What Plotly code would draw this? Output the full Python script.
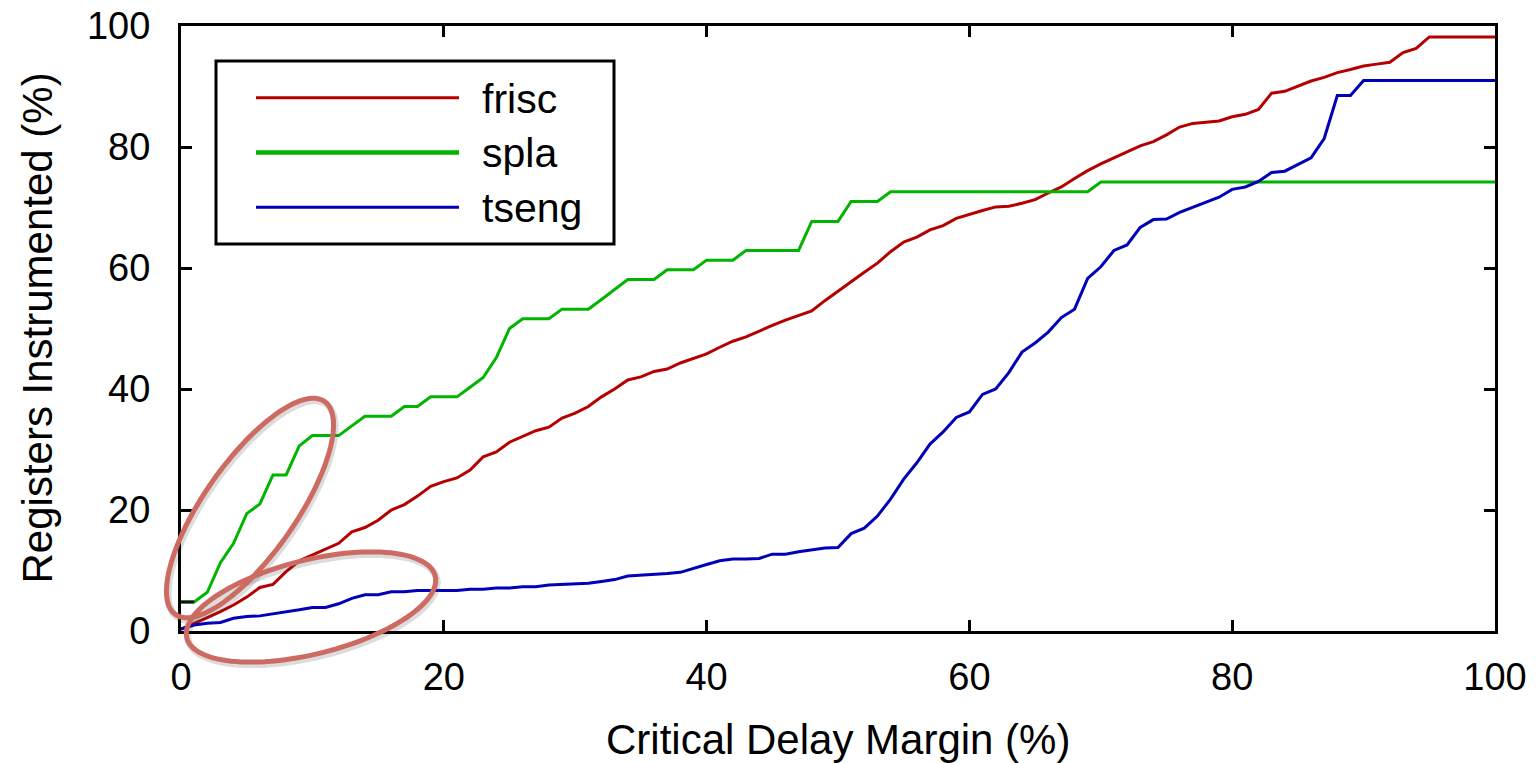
import math
import plotly.graph_objects as go

# ---------------- data ----------------
margin_pct = list(range(0, 101))

frisc = [0.3, 1.2, 2.2, 3.2, 4.3, 5.6, 7.2, 7.7, 9.8, 11.6,
         12.6, 13.5, 14.5, 16.4, 17.1, 18.3, 20.0, 20.9, 22.3, 23.9,
         24.7, 25.3, 26.6, 28.8, 29.6, 31.2, 32.2, 33.1, 33.7, 35.2,
         36.0, 37.1, 38.7, 40.0, 41.5, 42.0, 42.9, 43.3, 44.3, 45.1,
         45.8, 46.9, 47.9, 48.6, 49.6, 50.5, 51.4, 52.2, 52.9, 54.6,
         56.2, 57.7, 59.3, 60.8, 62.7, 64.3, 65.1, 66.3, 67.0, 68.2,
         68.9, 69.5, 70.1, 70.2, 70.7, 71.3, 72.4, 73.4, 74.8, 76.1,
         77.2, 78.2, 79.3, 80.2, 80.9, 82.0, 83.3, 83.9, 84.1, 84.3,
         85.0, 85.4, 86.2, 88.9, 89.2, 90.0, 90.9, 91.5, 92.3, 92.8,
         93.4, 93.7, 94.0, 95.6, 96.3, 98.2, 98.2, 98.2, 98.2, 98.2,
         98.2]

spla = [4.8, 4.8, 6.4, 11.3, 14.5, 19.4, 21.0, 25.8, 25.8, 30.6,
        32.3, 32.3, 32.3, 33.9, 35.5, 35.5, 35.5, 37.1, 37.1, 38.7,
        38.7, 38.7, 40.3, 41.9, 45.2, 50.0, 51.6, 51.6, 51.6, 53.2,
        53.2, 53.2, 54.8, 56.5, 58.1, 58.1, 58.1, 59.7, 59.7, 59.7,
        61.3, 61.3, 61.3, 62.9, 62.9, 62.9, 62.9, 62.9, 67.7, 67.7,
        67.7, 71.0, 71.0, 71.0, 72.6, 72.6, 72.6, 72.6, 72.6, 72.6,
        72.6, 72.6, 72.6, 72.6, 72.6, 72.6, 72.6, 72.6, 72.6, 72.6,
        74.2, 74.2, 74.2, 74.2, 74.2, 74.2, 74.2, 74.2, 74.2, 74.2,
        74.2, 74.2, 74.2, 74.2, 74.2, 74.2, 74.2, 74.2, 74.2, 74.2,
        74.2, 74.2, 74.2, 74.2, 74.2, 74.2, 74.2, 74.2, 74.2, 74.2,
        74.2]

tseng = [0.3, 1.0, 1.3, 1.4, 2.1, 2.4, 2.5, 2.8, 3.2, 3.5,
         3.9, 3.9, 4.5, 5.4, 6.0, 6.0, 6.5, 6.5, 6.7, 6.7,
         6.7, 6.7, 6.9, 6.9, 7.1, 7.1, 7.3, 7.3, 7.6, 7.7,
         7.7, 7.9, 8.2, 8.5, 9.1, 9.2, 9.4, 9.5, 9.7, 10.4,
         11.0, 11.6, 11.9, 11.9, 12.0, 12.7, 12.7, 13.1, 13.4, 13.7,
         13.8, 16.1, 17.0, 19.0, 21.8, 25.1, 27.8, 30.9, 32.9, 35.3,
         36.2, 39.1, 40.0, 42.7, 46.1, 47.6, 49.4, 51.8, 53.2, 58.3,
         60.2, 62.9, 63.8, 66.7, 68.0, 68.1, 69.2, 70.0, 70.9, 71.7,
         73.0, 73.4, 74.3, 75.8, 76.0, 77.1, 78.2, 81.4, 88.5, 88.5,
         91.0, 91.0, 91.0, 91.0, 91.0, 91.0, 91.0, 91.0, 91.0, 91.0,
         91.0]

series_names = ["frisc", "spla", "tseng"]
series_values = [frisc, spla, tseng]
series_colors = ["#B40000", "#00B400", "#0000B9"]
legend_line_widths = [3, 4.5, 3]

x_ticks = [0, 20, 40, 60, 80, 100]
y_ticks = [0, 20, 40, 60, 80, 100]
x_title = "Critical Delay Margin (%)"
y_title = "Registers Instrumented (%)"

# ---------------- figure geometry (pixels) ----------------
W, H = 1538, 763
ML, MR, MT, MB = 181, 43, 26, 132
PW, PH = W - ML - MR, H - MT - MB
FONT = "Liberation Sans, Arial, Helvetica, sans-serif"


def px_x(px):
    return (px - ML) / PW


def px_y(py):
    return (MT + PH - py) / PH


fig = go.Figure()
for name, vals, col in zip(series_names, series_values, series_colors):
    fig.add_trace(go.Scatter(x=margin_pct, y=vals, mode="lines", name=name,
                             line=dict(color=col, width=3),
                             showlegend=False))

# the first spla segment appears dark in the reference
fig.add_trace(go.Scatter(x=margin_pct[:2], y=spla[:2], mode="lines",
                         line=dict(color="#111111", width=3),
                         showlegend=False, hoverinfo="skip"))


def ellipse_path(cx, cy, a, b, deg, dx=0.0, dy=0.0, n=120):
    """Rotated ellipse given in pixel space, returned as a paper-ref path."""
    t = math.radians(deg)
    pts = []
    for i in range(n):
        s = 2 * math.pi * i / n
        ex = a * math.cos(s)
        ey = b * math.sin(s)
        px = cx + dx + ex * math.cos(t) - ey * math.sin(t)
        py = cy + dy - (ex * math.sin(t) + ey * math.cos(t))
        pts.append((px_x(px), px_y(py)))
    return "M" + " L".join(f"{u:.5f},{v:.5f}" for u, v in pts) + " Z"


shapes = []
annotations = []

# ---- legend box (drawn by hand so the long sample lines match) ----
LB_L, LB_T, LB_R, LB_B = 216, 61, 614, 244
shapes.append(dict(type="rect", xref="paper", yref="paper", layer="above",
                   x0=px_x(LB_L), x1=px_x(LB_R), y0=px_y(LB_B), y1=px_y(LB_T),
                   fillcolor="white", line=dict(color="black", width=3)))
for i, (name, col, lw) in enumerate(zip(series_names, series_colors,
                                        legend_line_widths)):
    row_y = 97.7 + 54.8 * i
    shapes.append(dict(type="line", xref="paper", yref="paper", layer="above",
                       x0=px_x(256), x1=px_x(459), y0=px_y(row_y),
                       y1=px_y(row_y), line=dict(color=col, width=lw)))
    annotations.append(dict(text=name, xref="paper", yref="paper",
                            x=px_x(480), y=px_y(row_y + 1), xanchor="left",
                            yanchor="middle", showarrow=False,
                            font=dict(family=FONT, size=41, color="black")))

# ---- highlight ellipses ----
ellipses = [(250, 508, 130, 46, 55), (311, 607, 128, 47, 14)]
for cx, cy, a, b, d in ellipses:
    shapes.append(dict(type="path", xref="paper", yref="paper", layer="above",
                       path=ellipse_path(cx, cy, a, b, d, 1.5, 2.5),
                       line=dict(color="rgba(60,60,60,0.18)", width=7)))
for cx, cy, a, b, d in ellipses:
    shapes.append(dict(type="path", xref="paper", yref="paper", layer="above",
                       path=ellipse_path(cx, cy, a, b, d),
                       line=dict(color="#CD6A62", width=5)))

# ---- axis titles ----
annotations.append(dict(text=x_title, xref="paper", yref="paper", x=0.5,
                        y=px_y(740), xanchor="center", yanchor="middle",
                        showarrow=False,
                        font=dict(family=FONT, size=42, color="black")))
annotations.append(dict(text=y_title, xref="paper", yref="paper",
                        x=px_x(37), y=0.5, xanchor="center",
                        yanchor="middle", textangle=-90, showarrow=False,
                        font=dict(family=FONT, size=42, color="black")))

axis_common = dict(showgrid=False, zeroline=False, showline=True,
                   linecolor="black", linewidth=3, mirror="ticks",
                   ticks="inside", ticklen=11, tickwidth=2.5, tickcolor="black",
                   automargin=False,
                   tickfont=dict(family=FONT, size=38, color="black"))

fig.update_layout(
    width=W, height=H,
    margin=dict(l=ML, r=MR, t=MT, b=MB, pad=0, autoexpand=False),
    paper_bgcolor="white", plot_bgcolor="white",
    font=dict(family=FONT, color="black"),
    xaxis=dict(range=[0, 100], tickvals=x_ticks, ticklabelstandoff=10,
               **axis_common),
    yaxis=dict(range=[0, 100], tickvals=y_ticks, ticklabelstandoff=20,
               **axis_common),
    showlegend=False,
    shapes=shapes,
    annotations=annotations,
)

fig.write_html("out.html")
